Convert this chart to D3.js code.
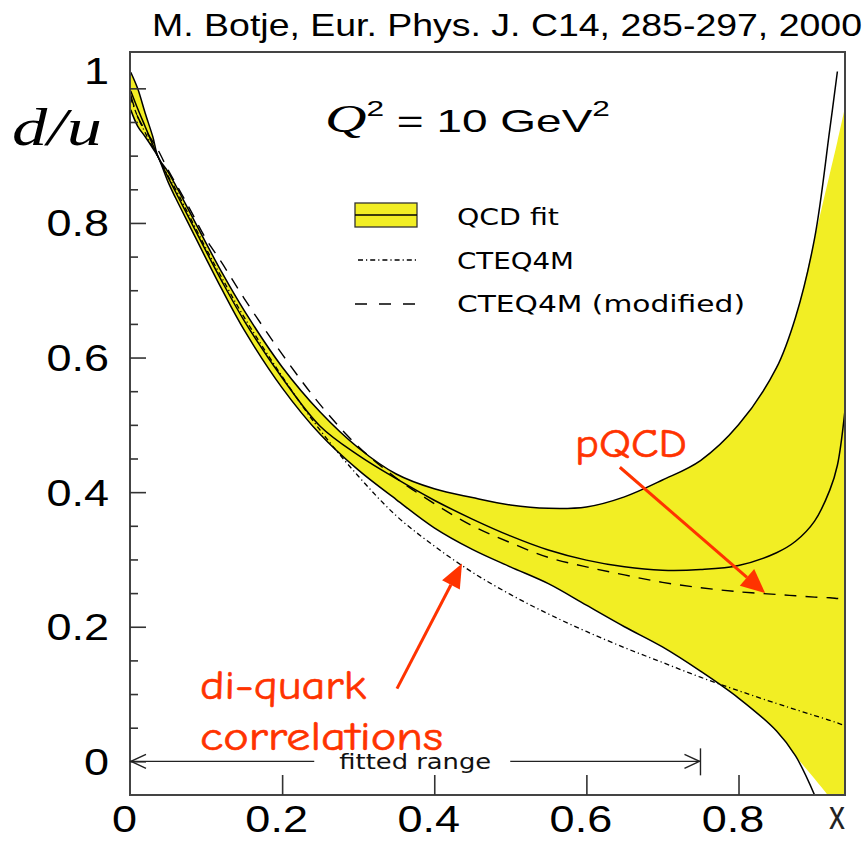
<!DOCTYPE html>
<html>
<head>
<meta charset="utf-8">
<script src="https://cdn.jsdelivr.net/npm/d3@7"></script>
<style>
  html, body { margin: 0; padding: 0; background: #fff; }
  svg { display: block; }
</style>
</head>
<body>
<script>
// ---- data: d/u ratio at Q^2 = 10 GeV^2 ----
const xGrid = [0.001, 0.01, 0.02, 0.03, 0.037, 0.05, 0.06, 0.08, 0.1, 0.12, 0.15, 0.2, 0.25, 0.3, 0.35,
  0.4, 0.45, 0.5, 0.55, 0.6, 0.65, 0.7, 0.75, 0.8, 0.85, 0.875, 0.9, 0.92, 0.93, 0.94];

// QCD fit: central value and error-band edges
const fitCentral = [0.996, 0.970, 0.943, 0.916, 0.898, 0.868, 0.846, 0.802, 0.758, 0.715, 0.655, 0.570, 0.498, 0.455, 0.420,
  0.388, 0.360, 0.335, 0.314, 0.299, 0.289, 0.284, 0.285, 0.291, 0.310, 0.327, 0.357, 0.403, 0.440, 0.522];
const fitUpper = [1.024, 1.000, 0.963, 0.928, 0.898, 0.876, 0.856, 0.813, 0.770, 0.728, 0.670, 0.586, 0.519, 0.466, 0.427,
  0.405, 0.392, 0.381, 0.376, 0.378, 0.393, 0.418, 0.447, 0.500, 0.585, 0.660, 0.777, 0.939, 1.025, null];
const fitLower = [0.968, 0.944, 0.928, 0.911, 0.898, 0.861, 0.837, 0.792, 0.747, 0.703, 0.641, 0.555, 0.486, 0.433, 0.389,
  0.347, 0.315, 0.289, 0.264, 0.232, 0.200, 0.170, 0.134, 0.094, 0.045, 0.008, -0.050, -0.110, -0.140, -0.175];
// shaded area of the band (coarser at the large-x end)
const bandUpper = [1.024, 1.000, 0.963, 0.928, 0.898, 0.876, 0.856, 0.813, 0.770, 0.728, 0.670, 0.586, 0.519, 0.466, 0.427,
  0.405, 0.392, 0.381, 0.376, 0.378, 0.393, 0.418, 0.447, 0.500, 0.585, 0.660, 0.777, 0.873, 0.921, 0.972];
const bandLower = [0.968, 0.944, 0.928, 0.911, 0.898, 0.861, 0.837, 0.792, 0.747, 0.703, 0.641, 0.555, 0.486, 0.433, 0.389,
  0.347, 0.315, 0.289, 0.264, 0.232, 0.200, 0.170, 0.134, 0.094, 0.045, 0.008, -0.026, -0.054, -0.068, -0.082];

// CTEQ4M and modified CTEQ4M
const cteq4m = [0.985, 0.958, 0.934, 0.912, 0.898, 0.870, 0.850, 0.806, 0.762, 0.720, 0.660, 0.572, 0.492, 0.424, 0.365,
  0.320, 0.281, 0.248, 0.219, 0.193, 0.169, 0.147, 0.125, 0.105, 0.086, 0.077, 0.068, 0.061, 0.057, 0.053];
const cteq4mMod = [0.990, 0.958, 0.938, 0.921, 0.908, 0.879, 0.859, 0.818, 0.776, 0.742, 0.688, 0.605, 0.530, 0.468, 0.421,
  0.383, 0.350, 0.325, 0.303, 0.289, 0.277, 0.266, 0.258, 0.252, 0.248, 0.246, 0.244, 0.243, 0.242, 0.241];

// axes
const xTicks = [0, 0.2, 0.4, 0.6, 0.8];
const yTicks = [0, 0.2, 0.4, 0.6, 0.8, 1];
const yMinorTicks = d3.range(0, 21).map(i => i * 0.05);
const fittedRange = [0, 0.75];

// annotations: [start x, start y, tip x, tip y]
const pqcdArrow = [0.644, 0.437, 0.835, 0.250];
const diquarkArrow = [0.351, 0.108, 0.4365, 0.294];

// ---- drawing ----
const W = 867, H = 844;
const L = 130, R = 845, T = 52, B = 795;
const YELLOW = "#f2ee24", RED = "#ff3300";
const SANS = "'Liberation Sans', Arial, Helvetica, sans-serif";
const SERIF = "'Liberation Serif', 'Times New Roman', serif";
const ROUND = "'DejaVu Sans', sans-serif";

const svg = d3.select("body").append("svg").attr("width", W).attr("height", H);
const x = d3.scaleLinear().domain([0, 0.94]).range([L, R]);
const y = d3.scaleLinear().domain([-0.05, 1.054]).range([B, T]);

svg.append("defs").append("clipPath").attr("id", "plotClip")
  .append("rect").attr("x", L).attr("y", T).attr("width", R - L).attr("height", B - T);

function text(g, str, px, py, o) {
  const t = g.append("text")
    .attr("transform", `translate(${px},${py})`)
    .attr("font-family", o.family || SANS)
    .attr("font-size", o.size)
    .attr("font-style", o.style || "normal")
    .attr("font-weight", o.weight || "normal")
    .attr("text-anchor", o.anchor || "start")
    .attr("fill", o.fill || "#000")
    .text(str);
  if (o.width) {
    const w = t.node().getBBox().width;
    t.attr("transform", `translate(${px},${py}) scale(${o.width / w},${o.sy || 1})`);
  }
  return t;
}

const plot = svg.append("g").attr("clip-path", "url(#plotClip)");
const idx = d3.range(xGrid.length);
const smooth = d3.curveCatmullRom.alpha(0.5);

// error band
plot.append("path")
  .attr("d", d3.area().x(i => x(xGrid[i])).y0(i => y(bandLower[i])).y1(i => y(bandUpper[i]))
    .curve(smooth)(idx))
  .attr("fill", YELLOW).attr("stroke", "none");

function curve(values, attrs) {
  const p = plot.append("path")
    .attr("d", d3.line().defined(i => values[i] != null)
      .x(i => x(xGrid[i])).y(i => y(values[i])).curve(smooth)(idx))
    .attr("fill", "none").attr("stroke", "#000");
  Object.entries(attrs).forEach(([k, v]) => p.attr(k, v));
}
curve(cteq4m, { "stroke-width": 1.3, "stroke-dasharray": "5,3,1.2,3" });
curve(cteq4mMod, { "stroke-width": 1.4, "stroke-dasharray": "12,9" });
curve(fitUpper, { "stroke-width": 1.5 });
curve(fitLower, { "stroke-width": 1.5 });
curve(fitCentral, { "stroke-width": 1.5 });

// frame
svg.append("rect").attr("x", L).attr("y", T).attr("width", R - L).attr("height", B - T)
  .attr("fill", "none").attr("stroke", "#444").attr("stroke-width", 2);

// y ticks (inside the frame)
const yMajor = svg.append("g").attr("transform", `translate(${L},0)`)
  .call(d3.axisRight(y).tickValues(yTicks).tickSize(16).tickFormat(""));
const yMinor = svg.append("g").attr("transform", `translate(${L},0)`)
  .call(d3.axisRight(y).tickValues(yMinorTicks.filter(v => !yTicks.some(t => Math.abs(t - v) < 1e-9)))
    .tickSize(8).tickFormat(""));
[yMajor, yMinor].forEach(g => {
  g.select(".domain").remove();
  g.selectAll("line").attr("stroke", "#333").attr("stroke-width", 1.6);
});

// y labels
const yLab = svg.append("g").attr("transform", `translate(${L},0)`)
  .call(d3.axisLeft(y).tickValues(yTicks).tickSize(0).tickFormat(d3.format("~g")));
yLab.select(".domain").remove();
yLab.selectAll("text")
  .attr("font-family", SANS).attr("font-size", 36).attr("fill", "#000")
  .attr("x", null).attr("dy", null)
  .attr("transform", d => `translate(-21,${d === 1 ? -5 : 13}) scale(1.25,1)`);

// x ticks and labels
const xMajor = svg.append("g").attr("transform", `translate(0,${B})`)
  .call(d3.axisTop(x).tickValues(xTicks.filter(v => v > 0)).tickSize(20).tickFormat(""));
xMajor.select(".domain").remove();
xMajor.selectAll("line").attr("stroke", "#333").attr("stroke-width", 1.6);

const xLab = svg.append("g").attr("transform", `translate(0,${B})`)
  .call(d3.axisBottom(x).tickValues(xTicks).tickSize(0).tickFormat(d3.format("~g")));
xLab.select(".domain").remove();
xLab.selectAll("text")
  .attr("font-family", SANS).attr("font-size", 36).attr("fill", "#000")
  .attr("y", null).attr("dy", null)
  .attr("transform", `translate(-6,37) scale(1.25,1)`);

text(svg, "x", 837, 829, { family: SANS, size: 30, anchor: "middle", fill: "#222", width: 16, sy: 1.35 });

// title and axis title
text(svg, "M. Botje, Eur. Phys. J. C14, 285-297, 2000", 862, 36, { size: 31, anchor: "end", width: 710 });
text(svg, "d/u", 12, 145, { family: SERIF, style: "italic", size: 52, width: 90 });

// Q^2 label
const q = svg.append("text").attr("transform", "translate(325,132)").attr("font-family", SANS).attr("font-size", 32);
q.append("tspan").attr("font-family", SERIF).attr("font-style", "italic").attr("font-size", 40).text("Q");
q.append("tspan").attr("font-size", 22).attr("dy", -16).text("2");
q.append("tspan").attr("dy", 16).text(" = 10 GeV");
q.append("tspan").attr("font-size", 22).attr("dy", -16).text("2");
{
  const w = q.node().getBBox().width;
  q.attr("transform", `translate(325,132) scale(${285 / w},1)`);
}

// legend
const lg = svg.append("g");
lg.append("rect").attr("x", 355).attr("y", 203).attr("width", 62).attr("height", 24)
  .attr("fill", YELLOW).attr("stroke", "#333").attr("stroke-width", 1.3);
lg.append("line").attr("x1", 355).attr("x2", 417).attr("y1", 215).attr("y2", 215)
  .attr("stroke", "#000").attr("stroke-width", 1.5);
lg.append("line").attr("x1", 358).attr("x2", 417).attr("y1", 260).attr("y2", 260)
  .attr("stroke", "#000").attr("stroke-width", 1.3).attr("stroke-dasharray", "5,3,1.2,3");
lg.append("line").attr("x1", 355).attr("x2", 417).attr("y1", 304).attr("y2", 304)
  .attr("stroke", "#000").attr("stroke-width", 1.4).attr("stroke-dasharray", "12,12");
text(lg, "QCD fit", 457, 225, { family: ROUND, size: 23, width: 102 });
text(lg, "CTEQ4M", 457, 269, { family: ROUND, size: 23, width: 117 });
text(lg, "CTEQ4M (modified)", 457, 312, { family: ROUND, size: 23, width: 288 });

// fitted range marker
const fr = svg.append("g").attr("stroke", "#222").attr("stroke-width", 1.4).attr("fill", "none");
const fx0 = x(fittedRange[0]), fx1 = x(fittedRange[1]), fy = y(0);
text(svg, "fitted range", (fx0 + fx1) / 2, fy + 8, { family: ROUND, size: 22, anchor: "middle", fill: "#111", width: 152 });
fr.append("line").attr("x1", fx0).attr("x2", (fx0 + fx1) / 2 - 101).attr("y1", fy).attr("y2", fy);
fr.append("line").attr("x1", (fx0 + fx1) / 2 + 95).attr("x2", fx1).attr("y1", fy).attr("y2", fy);
fr.append("path").attr("d", `M${fx0 + 16},${fy - 7}L${fx0 + 1},${fy}L${fx0 + 16},${fy + 7}`);
fr.append("path").attr("d", `M${fx1 - 16},${fy - 7}L${fx1 - 1},${fy}L${fx1 - 16},${fy + 7}`);
fr.append("line").attr("x1", fx1).attr("x2", fx1).attr("y1", fy - 13).attr("y2", fy + 14);

// red annotations
function redArrow(a, headLen, headW) {
  const x0 = x(a[0]), y0 = y(a[1]), x1 = x(a[2]), y1 = y(a[3]);
  const ang = Math.atan2(y1 - y0, x1 - x0);
  const bx = x1 - headLen * Math.cos(ang), by = y1 - headLen * Math.sin(ang);
  const nx = -Math.sin(ang) * headW / 2, ny = Math.cos(ang) * headW / 2;
  svg.append("line").attr("x1", x0).attr("y1", y0).attr("x2", bx).attr("y2", by)
    .attr("stroke", RED).attr("stroke-width", 3);
  svg.append("path").attr("d", `M${x1},${y1}L${bx + nx},${by + ny}L${bx - nx},${by - ny}Z`).attr("fill", RED);
}
redArrow(pqcdArrow, 24, 22);
redArrow(diquarkArrow, 24, 20);
const COMIC = "'Comic Sans MS', 'Comic Neue', 'DejaVu Sans', sans-serif";
text(svg, "pQCD", 575, 457, { family: COMIC, size: 40, fill: RED, width: 112 }).attr("stroke", RED).attr("stroke-width", 0.6);
text(svg, "di-quark", 200, 699, { family: COMIC, size: 40, fill: RED, width: 167 }).attr("stroke", RED).attr("stroke-width", 0.6);
text(svg, "correlations", 200, 750, { family: COMIC, size: 40, fill: RED, width: 243 }).attr("stroke", RED).attr("stroke-width", 0.6);
</script>
</body>
</html>
